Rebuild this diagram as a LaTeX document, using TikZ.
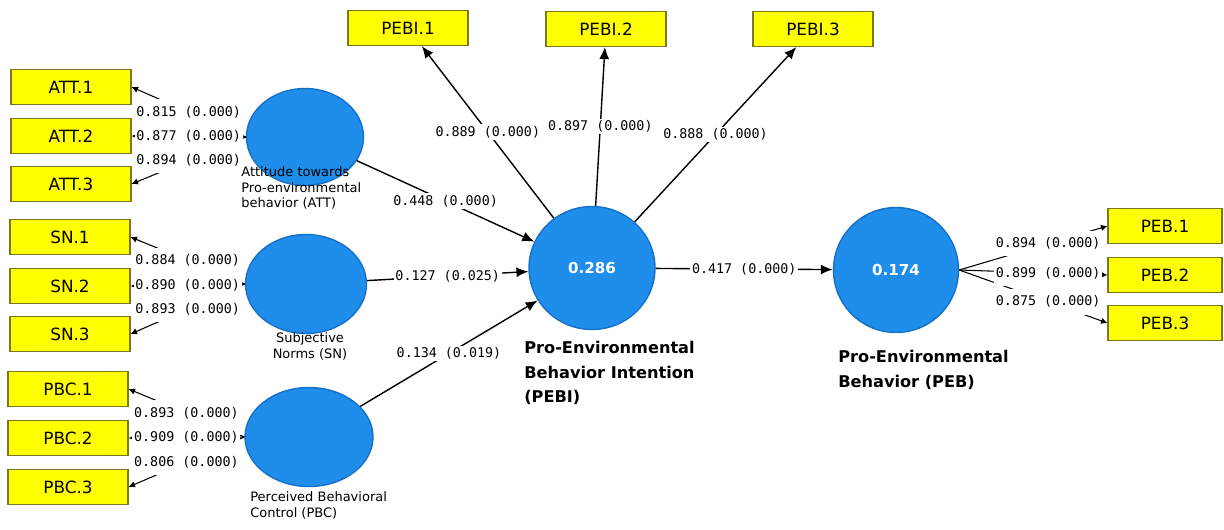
\documentclass[tikz,border=0pt]{standalone}
\usepackage{fontspec}
\setmainfont{DejaVu Sans}
\newfontfamily\valfont{DejaVu Sans Mono}
\usetikzlibrary{arrows.meta,shapes.geometric}

\definecolor{latblue}{RGB}{30,142,234}
\definecolor{latedge}{RGB}{22,112,200}
\definecolor{indyellow}{RGB}{255,255,0}
\definecolor{indedge}{RGB}{120,120,30}

\begin{document}
\begin{tikzpicture}[
  x=0.02cm, y=-0.02cm,
  ind/.style={draw=indedge, fill=indyellow, line width=0.6pt, minimum width=2.4cm,
    minimum height=0.7cm, inner sep=0pt, font=\fontsize{9.6}{11}\selectfont},
  lat/.style={ellipse, draw=latedge, fill=latblue, line width=0.8pt, inner sep=0pt,
    text=white, font=\fontsize{8.6}{10}\bfseries},
  latlab/.style={align=left, inner sep=0pt, font=\fontsize{7.4}{9}\selectfont},
  biglab/.style={align=left, inner sep=0pt, font=\fontsize{9.2}{14}\bfseries},
  path/.style={-{Latex[length=2.4mm,width=2mm]}, line width=0.8pt},
  load/.style={-{Latex[length=1.3mm,width=1.3mm]}, line width=0.6pt},
  val/.style={midway, fill=white, inner sep=1pt, font=\valfont\fontsize{7.6}{9}\selectfont},
  lval/.style={val, inner ysep=3.9pt}
]
  \useasboundingbox (0,0) rectangle (1224,529);

  %--- indicators
  \node[ind] (att1) at (71,87)  {ATT.1};
  \node[ind] (att2) at (71,136) {ATT.2};
  \node[ind] (att3) at (71,184) {ATT.3};
  \node[ind] (sn1)  at (70,237) {SN.1};
  \node[ind] (sn2)  at (70,286) {SN.2};
  \node[ind] (sn3)  at (70,334) {SN.3};
  \node[ind] (pbc1) at (68,389) {PBC.1};
  \node[ind] (pbc2) at (68,438) {PBC.2};
  \node[ind] (pbc3) at (68,487) {PBC.3};
  \node[ind] (pebi1) at (408,28) {PEBI.1};
  \node[ind] (pebi2) at (606,29) {PEBI.2};
  \node[ind] (pebi3) at (813,29) {PEBI.3};
  \node[ind, minimum width=2.28cm] (peb1) at (1165,226) {PEB.1};
  \node[ind, minimum width=2.28cm] (peb2) at (1165,275) {PEB.2};
  \node[ind, minimum width=2.28cm] (peb3) at (1165,323) {PEB.3};

  %--- latent variables
  \node[lat, minimum width=2.34cm, minimum height=1.94cm] (att)  at (305,137) {};
  \node[lat, minimum width=2.42cm, minimum height=1.98cm] (sn)   at (306,284) {};
  \node[lat, minimum width=2.56cm, minimum height=1.98cm] (pbc)  at (309,437) {};
  \node[lat, minimum width=2.52cm, minimum height=2.46cm] (pebi) at (592,268) {0.286};
  \node[lat, minimum width=2.5cm,  minimum height=2.5cm]  (peb)  at (896,270) {0.174};

  \node[latlab, anchor=north west] (attlab) at (241,166)
    {Attitude towards\\Pro-environmental\\behavior (ATT)};
  \node[latlab, align=center] (snlab) at (310,346) {Subjective\\Norms (SN)};
  \node[latlab, anchor=north west] (pbclab) at (250,491)
    {Perceived Behavioral\\Control (PBC)};
  \node[biglab, anchor=north west] (pebilab) at (524,341)
    {Pro-Environmental\\Behavior Intention\\(PEBI)};
  \node[biglab, anchor=north west] (peblab) at (838,350)
    {Pro-Environmental\\Behavior (PEB)};

  %============ OUTER LOADINGS ============%
  % lines first, labels on top
  \draw[load] (att.west) -- (att1.east);
  \draw[load] (att.west) -- (att2.east);
  \draw[load] (att.west) -- (att3.east);
  \draw[load] (sn.west) -- (sn1.east);
  \draw[load] (sn.west) -- (sn2.east);
  \draw[load] (sn.west) -- (sn3.east);
  \draw[load] (pbc.west) -- (pbc1.east);
  \draw[load] (pbc.west) -- (pbc2.east);
  \draw[load] (pbc.west) -- (pbc3.east);
  \draw[load] (peb.east) -- (peb1.west);
  \draw[load] (peb.east) -- (peb2.west);
  \draw[load] (peb.east) -- (peb3.west);

  \path (att.west) -- (att1.east) node[lval]{0.815 (0.000)};
  \path (att.west) -- (att2.east) node[lval]{0.877 (0.000)};
  \path (att.west) -- (att3.east) node[lval]{0.894 (0.000)};
  \path (sn.west) -- (sn1.east) node[lval]{0.884 (0.000)};
  \path (sn.west) -- (sn2.east) node[lval]{0.890 (0.000)};
  \path (sn.west) -- (sn3.east) node[lval]{0.893 (0.000)};
  \path (pbc.west) -- (pbc1.east) node[lval]{0.893 (0.000)};
  \path (pbc.west) -- (pbc2.east) node[lval]{0.909 (0.000)};
  \path (pbc.west) -- (pbc3.east) node[lval]{0.806 (0.000)};
  \path (peb.east) -- (peb1.west) node[lval, pos=0.6]{0.894 (0.000)};
  \path (peb.east) -- (peb2.west) node[lval, pos=0.6]{0.899 (0.000)};
  \path (peb.east) -- (peb3.west) node[lval, pos=0.6]{0.875 (0.000)};

  \draw[path] (pebi) -- (pebi1) node[val]{0.889 (0.000)};
  \draw[path] (pebi) -- (pebi2) node[val]{0.897 (0.000)};
  \draw[path] (pebi) -- (pebi3) node[val]{0.888 (0.000)};

  %============ PATHS =====================%
  \draw[path] (att)  -- (pebi) node[val]{0.448 (0.000)};
  \draw[path] (sn)   -- (pebi) node[val]{0.127 (0.025)};
  \draw[path] (pbc)  -- (pebi) node[val]{0.134 (0.019)};
  \draw[path] (pebi) -- (peb)  node[val]{0.417 (0.000)};

\end{tikzpicture}
\end{document}
